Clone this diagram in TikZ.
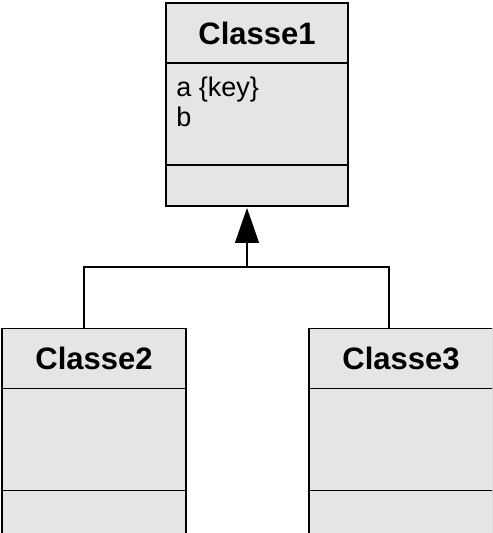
\documentclass[tikz,border=0pt]{standalone}
\usepackage{fontspec}
\setmainfont{Liberation Sans}
\usetikzlibrary{arrows.meta,positioning}

\definecolor{boxgray}{gray}{0.9}
\tikzset{
  part/.style={draw, line width=0.85pt, fill=boxgray, minimum width=91pt,
    inner sep=0pt, outer sep=0pt},
  titlepart/.style={part, minimum height=30pt, font=\bfseries\fontsize{15.5}{18}\selectfont},
  attrpart/.style={part, minimum height=51pt},
  opspart/.style={part, minimum height=20.5pt},
  attrtext/.style={anchor=north west, inner sep=0pt, align=left,
    font=\fontsize{13.5}{15}\selectfont},
  link/.style={line width=0.7pt},
}

\begin{document}
\begin{tikzpicture}[x=0.5pt, y=-0.5pt]
  \useasboundingbox (0,0) rectangle (492,533);
  \clip (0,0) rectangle (492,533);

  % Classe1
  \node[titlepart] (c1t) at (257,33) {Classe1};
  \node[attrpart, below=0pt of c1t] (c1a) {};
  \node[opspart, below=0pt of c1a] (c1o) {};
  \node[attrtext] (c1x) at ([shift={(5pt,-6.8pt)}]c1a.north west) {a \{key\}\\b};

  % Classe2
  \node[titlepart, minimum width=92pt] (c2t) at (94,358.5) {Classe2};
  \node[attrpart, minimum width=92pt, below=0pt of c2t] (c2a) {};
  \node[opspart, minimum width=92pt, minimum height=25pt, below=0pt of c2a] (c2o) {};

  % Classe3
  \node[titlepart, minimum width=92pt] (c3t) at (401,358.5) {Classe3};
  \node[attrpart, minimum width=92pt, below=0pt of c3t] (c3a) {};
  \node[opspart, minimum width=92pt, minimum height=25pt, below=0pt of c3a] (c3o) {};

  % 继承
  \coordinate (bus) at (247,267);
  \draw[link] ([xshift=-5pt]c2t.north) |- (bus) -| ([xshift=-6pt]c3t.north);
  \draw[link, -{Triangle[length=17.5pt, width=12pt]}, shorten >=1pt]
    (bus) -- ([xshift=-5pt]c1o.south);
\end{tikzpicture}
\end{document}
